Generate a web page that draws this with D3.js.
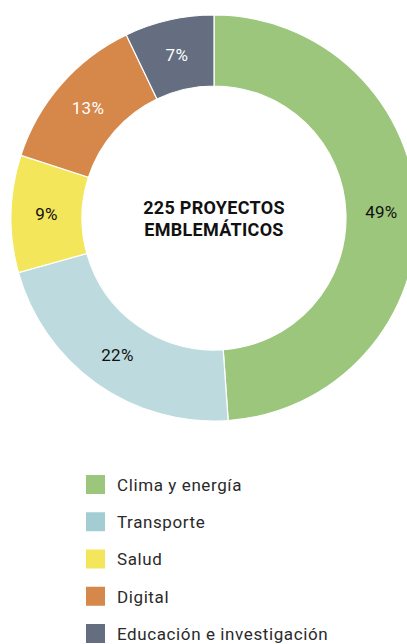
<!DOCTYPE html>
<html>
<head>
<meta charset="utf-8">
<script src="https://cdn.jsdelivr.net/npm/d3@7"></script>
<style>
  html, body { margin: 0; padding: 0; background: #fff; }
  svg { display: block; font-family: Roboto, sans-serif; }
</style>
</head>
<body>
<div id="chart"></div>
<script>
// Project counts per area (225 in total)
const categories = ["Clima y energía", "Transporte", "Salud", "Digital", "Educación e investigación"];
const counts = [110, 49, 21, 29, 16];
const colors = ["#9cc67b", "#bddbdf", "#f3e65b", "#d6874a", "#646e80"];
const legendColors = ["#9cc67b", "#a4cdd3", "#f3e65b", "#d6874a", "#646e80"];
const labelColors = ["#111", "#111", "#111", "#fff", "#fff"];
const centerLines = ["225 PROYECTOS", "EMBLEMÁTICOS"];

const width = 407, height = 644;
const cx = 214, cy = 218;
const outerR = 203, innerR = 132;

const total = d3.sum(counts);
const data = categories.map((c, i) => ({ name: c, value: counts[i], i }));

const svg = d3.select("#chart")
    .append("svg")
    .attr("width", width)
    .attr("height", height);

const pie = d3.pie().value(d => d.value).sort(null);
const arc = d3.arc().innerRadius(innerR).outerRadius(outerR);
const labelArc = d3.arc().innerRadius((innerR + outerR) / 2).outerRadius((innerR + outerR) / 2);

const g = svg.append("g").attr("transform", `translate(${cx},${cy})`);

const arcs = pie(data);

// Slices
g.selectAll("path")
    .data(arcs)
    .join("path")
    .attr("d", arc)
    .attr("fill", d => colors[d.data.i])
    .attr("stroke", "#fff")
    .attr("stroke-width", 1.2);

// Percentage labels
g.selectAll("text.pct")
    .data(arcs)
    .join("text")
    .attr("class", "pct")
    .attr("transform", d => `translate(${labelArc.centroid(d)})`)
    .attr("text-anchor", "middle")
    .attr("dy", "0.35em")
    .style("font-size", "17px")
    .style("letter-spacing", "0.3px")
    .style("fill", d => labelColors[d.data.i])
    .text(d => Math.round(d.data.value / total * 100) + "%");

// Centre text
g.append("text")
    .attr("text-anchor", "middle")
    .style("font-size", "18px")
    .style("font-weight", "bold")
    .style("fill", "#111")
    .style("letter-spacing", "0.3px")
    .selectAll("tspan")
    .data(centerLines)
    .join("tspan")
    .attr("x", 0)
    .attr("y", (d, i) => -4 + i * 22)
    .text(d => d);

// Legend
const legend = svg.append("g").attr("transform", "translate(86,475)");
const row = legend.selectAll("g")
    .data(data)
    .join("g")
    .attr("transform", (d, i) => `translate(0,${i * 37.25})`);

row.append("rect")
    .attr("width", 19)
    .attr("height", 19)
    .attr("fill", d => legendColors[d.i]);

row.append("text")
    .attr("x", 31)
    .attr("y", 10)
    .attr("dy", "0.35em")
    .style("font-size", "17px")
    .style("fill", "#2a2a2a")
    .style("letter-spacing", "0.6px")
    .text(d => d.name);
</script>
</body>
</html>
